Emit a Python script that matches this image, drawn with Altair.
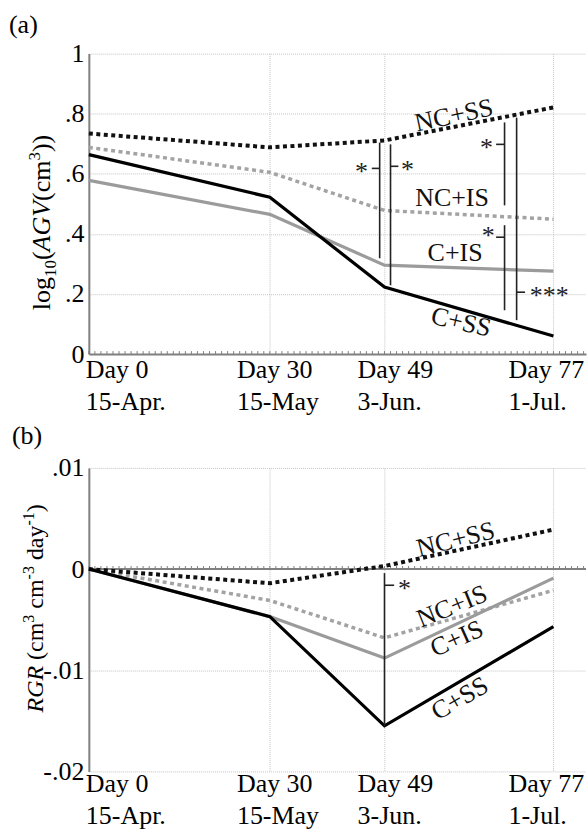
import altair as alt
import pandas as pd

# ---------------- data ----------------
days = [0, 30, 49, 77]
day_line1 = ["Day 0", "Day 30", "Day 49", "Day 77"]
day_line2 = ["15-Apr.", "15-May", "3-Jun.", "1-Jul."]

series_names = ["NC+IS", "C+IS", "NC+SS", "C+SS"]  # drawing order

agv_nc_is = [0.688, 0.605, 0.478, 0.449]
agv_c_is = [0.578, 0.465, 0.296, 0.276]
agv_nc_ss = [0.734, 0.688, 0.711, 0.821]
agv_c_ss = [0.664, 0.522, 0.223, 0.060]

rgr_nc_is = [0.0, -0.0031, -0.0068, -0.0021]
rgr_c_is = [0.0, -0.0047, -0.0088, -0.0009]
rgr_nc_ss = [0.0, -0.0014, 0.0003, 0.0039]
rgr_c_ss = [0.0, -0.0047, -0.0155, -0.0057]

agv = {"NC+IS": agv_nc_is, "C+IS": agv_c_is, "NC+SS": agv_nc_ss, "C+SS": agv_c_ss}
rgr = {"NC+IS": rgr_nc_is, "C+IS": rgr_c_is, "NC+SS": rgr_nc_ss, "C+SS": rgr_c_ss}

agv_ticks = [0, 0.2, 0.4, 0.6, 0.8, 1.0]
rgr_ticks = [-0.02, -0.01, 0.0, 0.01]

# significance annotations, panel (a)
sig_a_x = [48.2, 50.0, 68.9, 68.9, 70.9]
sig_a_top = [0.704, 0.698, 0.771, 0.429, 0.787]
sig_a_bot = [0.319, 0.229, 0.495, 0.146, 0.113]
sig_a_tick_x0 = [46.9, 50.0, 67.5, 67.5, 70.9]
sig_a_tick_x1 = [48.2, 51.3, 68.9, 68.9, 72.3]
sig_a_tick_y = [0.618, 0.625, 0.698, 0.389, 0.206]
sig_a_star = ["*", "*", "*", "*", "***"]
sig_a_star_x = [45.2, 52.8, 65.9, 66.2, 76.3]
sig_a_star_y = [0.618, 0.625, 0.698, 0.405, 0.206]

# significance annotations, panel (b)
sig_b_x = [49.0]
sig_b_top = [-0.0004]
sig_b_bot = [-0.0155]
sig_b_tick_x0 = [49.0]
sig_b_tick_x1 = [50.6]
sig_b_tick_y = [-0.0016]
sig_b_star = ["*"]
sig_b_star_x = [52.3]
sig_b_star_y = [-0.0016]

# in-plot series labels (same order as series_names)
lab_a_x = [60.2, 60.7, 60.5, 61.7]
lab_a_y = [0.518, 0.336, 0.794, 0.106]
lab_a_angle = [0, 0, 348, 13]
lab_b_x = [60.2, 61.0, 60.8, 61.5]
lab_b_y = [-0.0037, -0.0069, 0.0029, -0.0128]
lab_b_angle = [338, 336, 346, 330]

# ---------------- styles ----------------
W, HA, HB = 498, 301, 304
XDOM = [0, 82.4]
FONT = "Liberation Serif"
FS = 26
GRID = "#c4c4c4"
AXC = "#808080"

STYLE = {
    "NC+IS": dict(color="#a3a3a3", strokeWidth=3.5, strokeDash=[4, 3.5]),
    "C+IS": dict(color="#9b9b9b", strokeWidth=3.2),
    "NC+SS": dict(color="#111111", strokeWidth=4, strokeDash=[4, 3.5]),
    "C+SS": dict(color="#000000", strokeWidth=3.2),
}

REG = {'l': 278, 'o': 500, 'g': 500, '(': 333, ')': 333, 'c': 444, 'm': 778, ' ': 250,
       'd': 500, 'a': 444, 'y': 500, '-': 333, '0': 500, '1': 500, '3': 500,
       'A': 722, 'G': 722, 'V': 722, 'R': 667}
ITA = {'A': 611, 'G': 722, 'V': 611, 'R': 611}


def text_width(s, size, italic):
    tot = 0
    for ch in s:
        tot += (ITA.get(ch, REG.get(ch, 500)) if italic else REG.get(ch, 500))
    return tot * size / 1000.0


def build_panel(vals, ydom, yticks, labexpr, height, x_domain_line, zero_line, tick_top,
                letter, letter_xy, title_pieces, title_xy,
                sig, labs, base1, base2):
    xa = alt.Axis(values=days, labels=False, ticks=False, domain=x_domain_line,
                  domainColor=AXC, domainWidth=2, grid=True, gridColor=GRID,
                  gridDash=[1, 1], gridWidth=1, title=None)
    ya = alt.Axis(values=yticks, labelExpr=labexpr, labelFont=FONT, labelFontSize=FS,
                  labelColor="black", labelPadding=5, ticks=False, domain=True,
                  domainColor=AXC, domainWidth=2, grid=True, gridColor=GRID,
                  gridDash=[1, 1], gridWidth=1, title=None, labelFlush=False,
                  labelOverlap=False)

    def X(field="day"):
        return alt.X(f"{field}:Q", scale=alt.Scale(domain=XDOM, nice=False, zero=False),
                     axis=xa)

    def Y(field):
        return alt.Y(f"{field}:Q", scale=alt.Scale(domain=ydom, nice=False, zero=False),
                     axis=ya)

    layers = []
    # small day ticks along the axis line
    tdf = pd.DataFrame({"day": list(range(0, 83)), "v0": 0.0, "v1": tick_top})
    layers.append(alt.Chart(tdf).mark_rule(color=AXC, strokeWidth=1)
                  .encode(x=X("day"), y=Y("v0"), y2="v1:Q"))
    if zero_line:
        layers.append(alt.Chart(pd.DataFrame({"day": [XDOM[0]], "day2": [XDOM[1]], "v": [0.0]}))
                      .mark_rule(color=AXC, strokeWidth=2)
                      .encode(x=X("day"), x2="day2:Q", y=Y("v")))

    for s in series_names:
        df = pd.DataFrame({"day": days, "v": vals[s]})
        layers.append(
            alt.Chart(df).mark_line(strokeCap="butt", strokeJoin="miter", **STYLE[s])
            .encode(x=X("day"), y=Y("v"))
        )

    # significance brackets
    sx, stop, sbot, tx0, tx1, ty, stars, starx, stary = sig
    layers.append(alt.Chart(pd.DataFrame({"day": sx, "v": stop, "bot": sbot}))
                  .mark_rule(color="#222222", strokeWidth=1.6)
                  .encode(x=X("day"), y=Y("v"), y2="bot:Q"))
    layers.append(alt.Chart(pd.DataFrame({"day": tx0, "day2": tx1, "v": ty}))
                  .mark_rule(color="#222222", strokeWidth=1.6)
                  .encode(x=X("day"), x2="day2:Q", y=Y("v")))
    layers.append(alt.Chart(pd.DataFrame({"day": starx, "v": stary, "t": stars}))
                  .mark_text(font=FONT, fontSize=FS, align="center", baseline="alphabetic",
                             dy=12, color="#222222")
                  .encode(x=X("day"), y=Y("v"), text="t:N"))

    # series labels
    lx, ly, la = labs
    layers.append(alt.Chart(pd.DataFrame({"day": lx, "v": ly, "a": la, "t": series_names}))
                  .mark_text(font=FONT, fontSize=FS, align="center", baseline="middle",
                             color="#111111")
                  .encode(x=X("day"), y=Y("v"), text="t:N",
                          angle=alt.Angle("a:Q", scale=None)))

    # x tick labels (two lines)
    DX = [-3, -33, -27, -45]
    for i in range(len(days)):
        for txt, off in ((day_line1[i], base1), (day_line2[i], base2)):
            layers.append(
                alt.Chart(pd.DataFrame({"day": [days[i]], "t": [txt]}))
                .mark_text(font=FONT, fontSize=FS, align="left", baseline="alphabetic",
                           dx=DX[i], color="black")
                .encode(x=X("day"), y=alt.value(height + off), text="t:N")
            )

    # y title built from styled pieces (leading spaces handled as offsets)
    cum = 0.0
    for txt, size, italic, dy in title_pieces:
        stripped = txt.lstrip(" ")
        cum += text_width(txt[: len(txt) - len(stripped)], size, italic)
        layers.append(
            alt.Chart(pd.DataFrame({"t": [stripped]}))
            .mark_text(font=FONT, fontSize=size, fontStyle="italic" if italic else "normal",
                       angle=270, align="left", baseline="alphabetic", dx=cum, dy=dy,
                       color="black")
            .encode(x=alt.value(title_xy[0]), y=alt.value(title_xy[1]), text="t:N")
        )
        cum += text_width(stripped, size, italic)

    # panel letter
    layers.append(alt.Chart(pd.DataFrame({"t": [letter]}))
                  .mark_text(font=FONT, fontSize=FS, align="left", baseline="alphabetic",
                             color="black")
                  .encode(x=alt.value(letter_xy[0]), y=alt.value(letter_xy[1]), text="t:N"))

    return alt.layer(*layers).properties(width=W, height=height)


labexpr_a = ("datum.value == 0 ? '0' : datum.value >= 0.999 ? '1' : "
             "replace(format(datum.value, '.1f'), '0.', '.')")
labexpr_b = ("datum.value == 0 ? '0' : (datum.value < 0 ? '-' : '') + "
             "replace(format(abs(datum.value), '.2f'), '0.', '.')")

title_a = [("log", FS, False, 0), ("10", 17, False, 6), ("(", FS, False, 0),
           ("AGV", FS, True, 0), ("(cm", FS, False, 0), ("3", 17, False, -10),
           ("))", FS, False, 0)]
TB = 24
title_b = [("RGR", TB, True, 0), (" (cm", TB, False, 0), ("3", 16, False, -9),
           (" cm", TB, False, 0), ("-3", 16, False, -9), (" day", TB, False, 0),
           ("-1", 16, False, -9), (")", TB, False, 0)]

pa = build_panel(agv, [0, 1], agv_ticks, labexpr_a, HA, True, False, 0.01,
                 "(a)", (-80, -21), title_a, (-39, 257),
                 (sig_a_x, sig_a_top, sig_a_bot, sig_a_tick_x0, sig_a_tick_x1, sig_a_tick_y,
                  sig_a_star, sig_a_star_x, sig_a_star_y),
                 (lab_a_x, lab_a_y, lab_a_angle), 24, 56)

pb = build_panel(rgr, [-0.02, 0.01], rgr_ticks, labexpr_b, HB, False, True, 0.0003,
                 "(b)", (-77, -24), title_b, (-46, 245),
                 (sig_b_x, sig_b_top, sig_b_bot, sig_b_tick_x0, sig_b_tick_x1, sig_b_tick_y,
                  sig_b_star, sig_b_star_x, sig_b_star_y),
                 (lab_b_x, lab_b_y, lab_b_angle), 21, 53)

chart = (
    alt.vconcat(pa, pb, spacing=8)
    .properties(padding={"left": 9, "top": 11, "right": 0, "bottom": 0}, background="white")
    .configure_view(stroke=None)
)

chart.save("out.html", embed_options={"renderer": "svg", "actions": False})
